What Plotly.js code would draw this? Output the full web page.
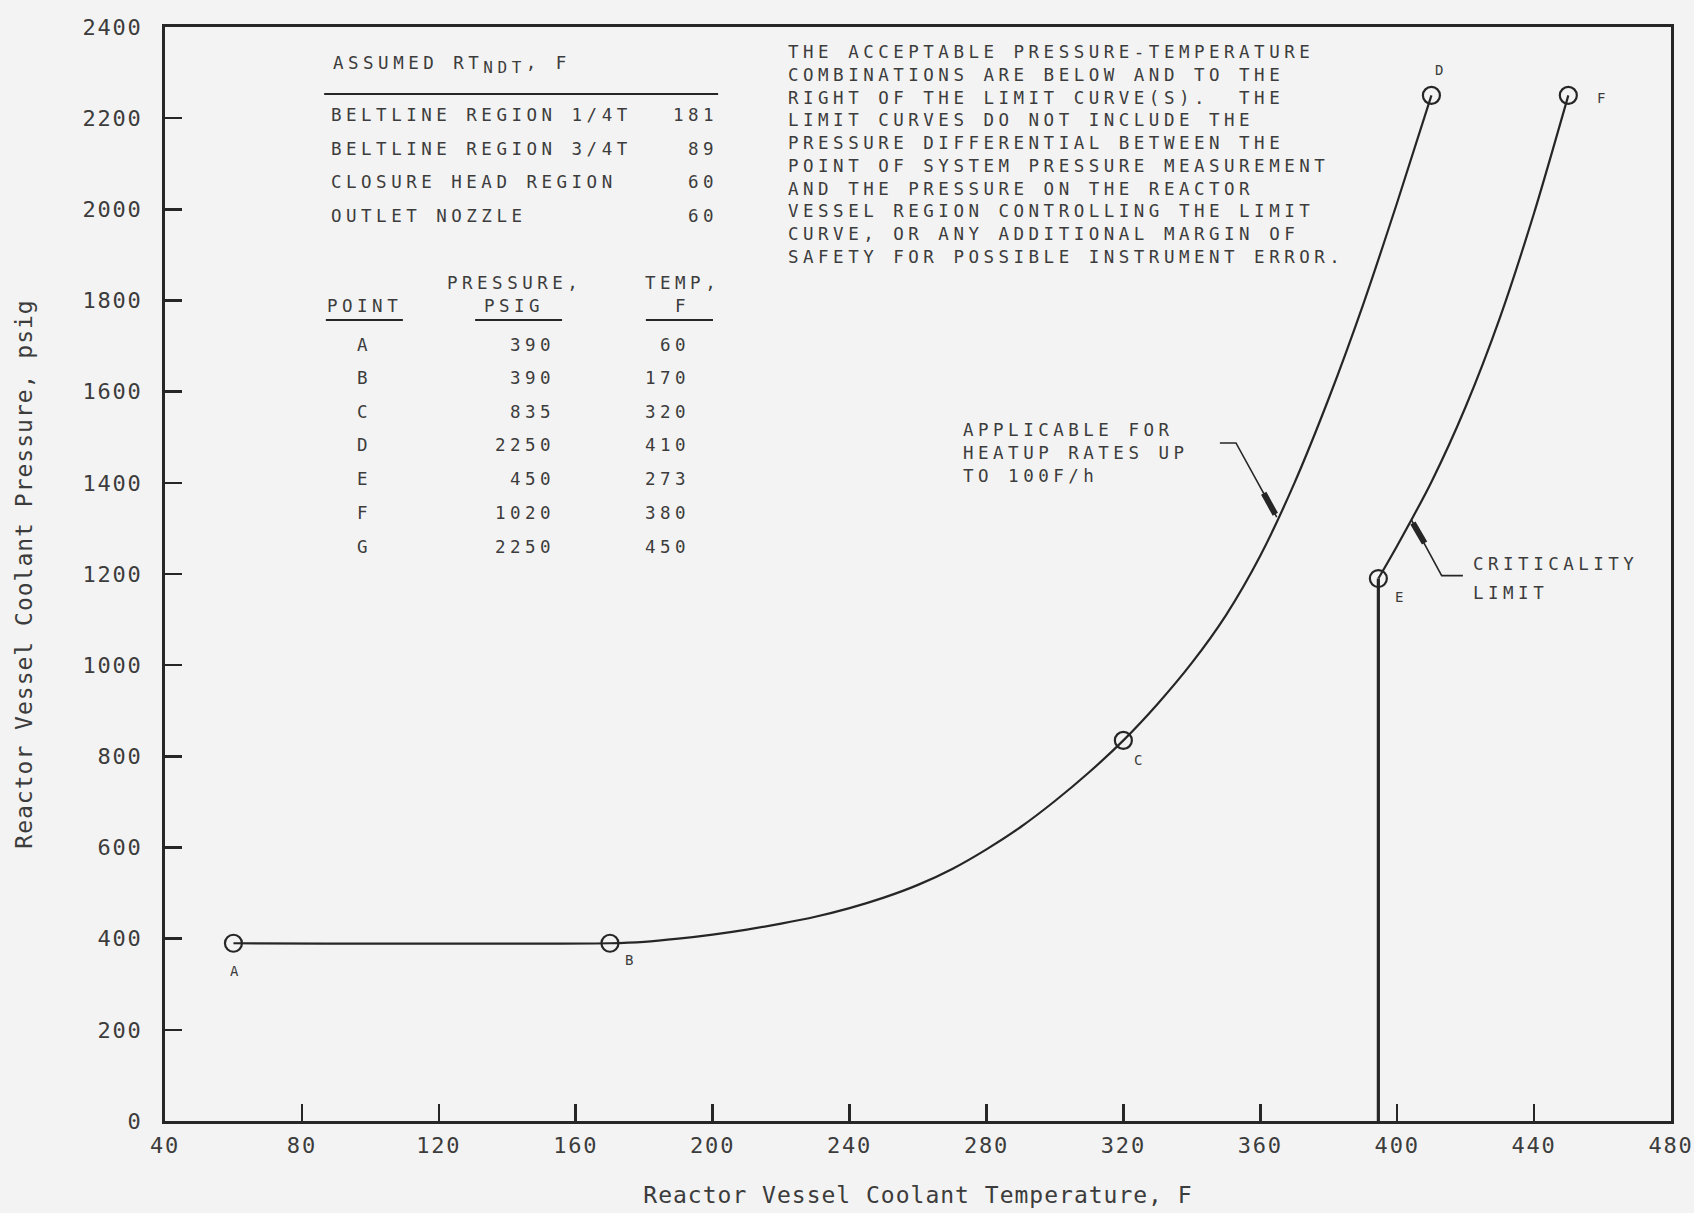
<!DOCTYPE html>
<html>
<head>
<meta charset="utf-8">
<script src="https://cdn.plot.ly/plotly-3.0.1.min.js"></script>
<style>
  html, body { margin: 0; padding: 0; background: #f3f3f3; }
  #chart { width: 1694px; height: 1213px; }
  /* plotter-style lettering: even, wide character pitch */
  .annotation-text { letter-spacing: 4.5px; }
  .xtick text, .ytick text { letter-spacing: 1.8px; }
  .xtitle, .ytitle { letter-spacing: 1px; }
</style>
</head>
<body>
<div id="chart"></div>
<script>
// Heatup limit curve (heatup rates up to 100 F/h): temperature F, pressure psig
const heatupTemp  = [60, 170, 180, 190, 200, 210, 220, 230, 240, 250, 260, 270, 280, 290, 300, 310, 320, 330, 340, 350, 360, 370, 380, 390, 400, 410];
const heatupPress = [390, 390, 393, 400, 409, 420, 433, 448, 467, 490, 518, 553, 596, 645, 702, 765, 835, 915, 1005, 1110, 1240, 1400, 1585, 1790, 2015, 2250];

// Criticality limit curve, starting at the top of the vertical limit line
const critTemp  = [394.5, 400, 410, 420, 430, 440, 450];
const critPress = [1190, 1262, 1402, 1567, 1762, 1992, 2250];

// Tabulated points
const pointNames = ['A', 'B', 'C', 'D', 'E', 'F', 'G'];
const pointPress = [390, 390, 835, 2250, 450, 1020, 2250];
const pointTemp  = [60, 170, 320, 410, 273, 380, 450];

// Assumed RT_NDT table
const regionNames = ['BELTLINE REGION 1/4T', 'BELTLINE REGION 3/4T', 'CLOSURE HEAD REGION', 'OUTLET NOZZLE'];
const regionRtNdt = [181, 89, 60, 60];

// Axis ticks
const xTicks = [40, 80, 120, 160, 200, 240, 280, 320, 360, 400, 440, 480];
const yTicks = [0, 200, 400, 600, 800, 1000, 1200, 1400, 1600, 1800, 2000, 2200, 2400];

const FONT = 'DejaVu Sans Mono, Liberation Mono, monospace';
const INK = '#262626';
const TXT = '#3c3c3c';

// Circled points on the curves and their drawn labels
const circleTemp  = [pointTemp[0], pointTemp[1], pointTemp[2], pointTemp[3], pointTemp[6], critTemp[0]];
const circlePress = [pointPress[0], pointPress[1], pointPress[2], pointPress[3], pointPress[6], critPress[0]];
const circleLabels = ['A', 'B', 'C', 'D', 'F', 'E'];
const labelShift = [[3, -28], [22, -17], [17, -20], [10, 25], [35, -3], [23, -18]];

const traces = [
  {
    x: heatupTemp, y: heatupPress, type: 'scatter', mode: 'lines',
    line: { color: INK, width: 2.2, shape: 'spline', smoothing: 0.8 },
    name: 'Heatup limit', hoverinfo: 'x+y'
  },
  {
    x: [critTemp[0], critTemp[0]], y: [0, critPress[0]], type: 'scatter', mode: 'lines',
    line: { color: INK, width: 3.2 }, name: 'Criticality limit (vertical)', hoverinfo: 'skip'
  },
  {
    x: critTemp, y: critPress, type: 'scatter', mode: 'lines',
    line: { color: INK, width: 2.2, shape: 'spline', smoothing: 0.8 },
    name: 'Criticality limit', hoverinfo: 'x+y'
  },
  {
    x: circleTemp, y: circlePress, type: 'scatter', mode: 'markers',
    marker: { symbol: 'circle-open', size: 17, color: INK, line: { width: 2.2, color: INK } },
    name: 'Points', hoverinfo: 'x+y'
  }
];

const annotations = [];
const shapes = [];
const txt = (text, x, y, opts) => Object.assign({
  text: text, x: x, y: y, xref: 'x', yref: 'y', showarrow: false,
  font: { family: FONT, size: 17.5, color: TXT }, xanchor: 'left', yanchor: 'middle', align: 'left'
}, opts || {});

// Point labels beside the circles
circleLabels.forEach((lab, i) => {
  annotations.push(txt(lab, circleTemp[i], circlePress[i], {
    xanchor: 'center', xshift: labelShift[i][0], yshift: labelShift[i][1],
    font: { family: FONT, size: 14, color: TXT }
  }));
});

// RT_NDT table
annotations.push(txt('ASSUMED RT<sub><span style="font-size:16px">NDT</span></sub>, F', 88.5, 2316));
shapes.push({ type: 'line', xref: 'x', yref: 'y', x0: 86.5, x1: 201.6, y0: 2253, y1: 2253, line: { color: INK, width: 2 } });
const rowY1 = [2208, 2133, 2059, 1986];
regionNames.forEach((nm, i) => {
  annotations.push(txt(nm, 88.0, rowY1[i]));
  annotations.push(txt(String(regionRtNdt[i]), 201.0, rowY1[i], { xanchor: 'right', xshift: 4 }));
});

// Pressure-temperature point table
annotations.push(txt('PRESSURE,', 142.0, 1838, { xanchor: 'center' }));
annotations.push(txt('PSIG', 142.0, 1788, { xanchor: 'center' }));
annotations.push(txt('TEMP,', 191.3, 1838, { xanchor: 'center' }));
annotations.push(txt('F', 191.3, 1788, { xanchor: 'center' }));
annotations.push(txt('POINT', 98.4, 1788, { xanchor: 'center' }));
[[87.0, 109.5], [130.6, 156.0], [180.5, 200.1]].forEach(seg => {
  shapes.push({ type: 'line', xref: 'x', yref: 'y', x0: seg[0], x1: seg[1], y0: 1757, y1: 1757, line: { color: INK, width: 2 } });
});
const rowY2 = [1703, 1630, 1556, 1483, 1409, 1334, 1260];
pointNames.forEach((nm, i) => {
  annotations.push(txt(nm, 98.4, rowY2[i], { xanchor: 'center' }));
  annotations.push(txt(String(pointPress[i]), 153.4, rowY2[i], { xanchor: 'right', xshift: 4 }));
  annotations.push(txt(String(pointTemp[i]), 192.8, rowY2[i], { xanchor: 'right', xshift: 4 }));
});

// General note
annotations.push(txt([
  'THE ACCEPTABLE PRESSURE-TEMPERATURE',
  'COMBINATIONS ARE BELOW AND TO THE',
  'RIGHT OF THE LIMIT CURVE(S).\u00a0 THE',
  'LIMIT CURVES DO NOT INCLUDE THE',
  'PRESSURE DIFFERENTIAL BETWEEN THE',
  'POINT OF SYSTEM PRESSURE MEASUREMENT',
  'AND THE PRESSURE ON THE REACTOR',
  'VESSEL REGION CONTROLLING THE LIMIT',
  'CURVE, OR ANY ADDITIONAL MARGIN OF',
  'SAFETY FOR POSSIBLE INSTRUMENT ERROR.'
].join('<br>'), 221.3, 2372, { yanchor: 'top' }));

// Heatup curve callout
annotations.push(txt('APPLICABLE FOR<br>HEATUP RATES UP<br>TO 100F/h', 272.7, 1466));
shapes.push({ type: 'path', xref: 'x', yref: 'y', path: 'M348.2,1487.5 L352.9,1487.5 L364.8,1325', line: { color: INK, width: 1.6 } });
shapes.push({ type: 'line', xref: 'x', yref: 'y', x0: 361.0, y0: 1377, x1: 364.4, y1: 1331, line: { color: INK, width: 6 } });

// Criticality callout
annotations.push(txt('CRITICALITY', 421.7, 1222));
annotations.push(txt('LIMIT', 421.7, 1158));
shapes.push({ type: 'path', xref: 'x', yref: 'y', path: 'M419.2,1196.4 L413.0,1196.4 L404.2,1318', line: { color: INK, width: 1.6 } });
shapes.push({ type: 'line', xref: 'x', yref: 'y', x0: 404.6, y0: 1312, x1: 408.0, y1: 1268, line: { color: INK, width: 6 } });

const axisCommon = {
  showline: true, linewidth: 3, linecolor: INK, mirror: true,
  ticks: 'inside', ticklen: 17, tickwidth: 2.5, tickcolor: INK,
  showgrid: false, zeroline: false,
  tickfont: { family: FONT, size: 22, color: TXT },
  tickmode: 'array'
};

const layout = {
  width: 1694, height: 1213,
  margin: { l: 165, r: 23, t: 27, b: 92 },
  paper_bgcolor: '#f3f3f3', plot_bgcolor: '#f3f3f3',
  showlegend: false,
  xaxis: Object.assign({}, axisCommon, {
    range: [40, 480], tickvals: xTicks, ticktext: xTicks.map(String),
    ticklabelstandoff: 3,
    title: { text: 'Reactor Vessel Coolant Temperature, F', font: { family: FONT, size: 23, color: TXT }, standoff: 30 }
  }),
  yaxis: Object.assign({}, axisCommon, {
    range: [0, 2400], tickvals: yTicks, ticktext: yTicks.map(String),
    ticklabelstandoff: 15,
    title: { text: 'Reactor Vessel Coolant Pressure, psig', font: { family: FONT, size: 23, color: TXT }, standoff: 44 }
  }),
  annotations: annotations,
  shapes: shapes
};

Plotly.newPlot('chart', traces, layout, { displayModeBar: false, staticPlot: true });
</script>
</body>
</html>
